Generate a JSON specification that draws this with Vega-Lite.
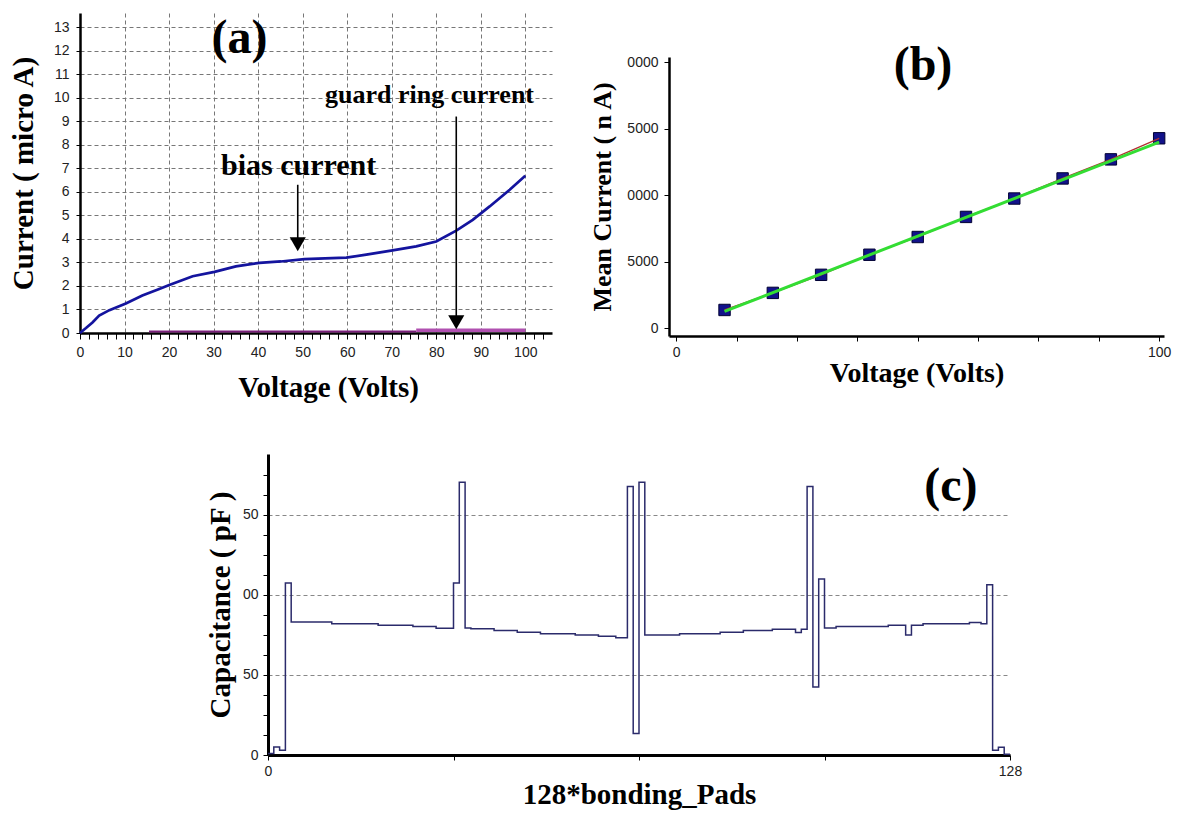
{
  "$schema": "https://vega.github.io/schema/vega-lite/v6.json",
  "background": "white",
  "padding": {"left": 9, "top": 13, "right": 5, "bottom": 2},
  "config": {
    "view": {"stroke": null},
    "axis": {
      "domainColor": "black",
      "tickColor": "black",
      "labelFont": "Liberation Sans",
      "labelColor": "#222222",
      "labelFontSize": 14,
      "labelOverlap": false,
      "labelFlush": false,
      "titleFont": "Liberation Serif",
      "titleFontWeight": "bold",
      "titleColor": "black",
      "titleFontSize": 29,
      "grid": false
    }
  },
  "datasets": {
    "bias": [
      {"x": 0, "y": 0}, {"x": 1.35, "y": 0.21}, {"x": 2.8, "y": 0.45}, {"x": 4.3, "y": 0.74},
      {"x": 6.6, "y": 0.97}, {"x": 10.3, "y": 1.25}, {"x": 14, "y": 1.59}, {"x": 17.8, "y": 1.87},
      {"x": 19.9, "y": 2.03}, {"x": 25.3, "y": 2.41}, {"x": 30.2, "y": 2.6}, {"x": 35, "y": 2.83},
      {"x": 40.3, "y": 2.98}, {"x": 45.1, "y": 3.04}, {"x": 50.4, "y": 3.14}, {"x": 55, "y": 3.17},
      {"x": 59.8, "y": 3.2}, {"x": 64.3, "y": 3.33}, {"x": 70.2, "y": 3.51}, {"x": 75.5, "y": 3.68},
      {"x": 80, "y": 3.89}, {"x": 84.5, "y": 4.35}, {"x": 88.2, "y": 4.81}, {"x": 92, "y": 5.38},
      {"x": 96.5, "y": 6.09}, {"x": 100, "y": 6.68}
    ],
    "guard1": [{"x": 15.5, "y": 0.06}, {"x": 75.5, "y": 0.06}],
    "guard2": [{"x": 75.5, "y": 0.12}, {"x": 100, "y": 0.12}],
    "arrowsA": [{"x": 48.9, "y": 6.3, "y2": 4.0}, {"x": 84.5, "y": 9.2, "y2": 0.7}],
    "headsA": [{"x": 48.9, "y": 3.77}, {"x": 84.5, "y": 0.46}],
    "meanCurrent": [
      {"x": 10, "y": 1360}, {"x": 20, "y": 2645}, {"x": 30, "y": 4005}, {"x": 40, "y": 5516},
      {"x": 50, "y": 6851}, {"x": 60, "y": 8363}, {"x": 70, "y": 9748}, {"x": 80, "y": 11259},
      {"x": 90, "y": 12695}, {"x": 100, "y": 14282}
    ],
    "fit": [{"x": 10, "y": 1250}, {"x": 100, "y": 14000}],
    "cap": [
      {"x": 0, "y": 1}, {"x": 1, "y": 5}, {"x": 2, "y": 3}, {"x": 3, "y": 107.5},
      {"x": 4, "y": 83}, {"x": 5, "y": 83}, {"x": 6, "y": 83}, {"x": 7, "y": 83}, {"x": 8, "y": 83}, {"x": 9, "y": 83}, {"x": 10, "y": 83},
      {"x": 11, "y": 82}, {"x": 12, "y": 82}, {"x": 13, "y": 82}, {"x": 14, "y": 82}, {"x": 15, "y": 82}, {"x": 16, "y": 82}, {"x": 17, "y": 82}, {"x": 18, "y": 82},
      {"x": 19, "y": 81}, {"x": 20, "y": 81}, {"x": 21, "y": 81}, {"x": 22, "y": 81}, {"x": 23, "y": 81}, {"x": 24, "y": 81},
      {"x": 25, "y": 80.2}, {"x": 26, "y": 80.2}, {"x": 27, "y": 80.2}, {"x": 28, "y": 80.2},
      {"x": 29, "y": 79.2}, {"x": 30, "y": 79.2}, {"x": 31, "y": 79.2},
      {"x": 32, "y": 107.5}, {"x": 33, "y": 170.4}, {"x": 34, "y": 79.4},
      {"x": 35, "y": 78.8}, {"x": 36, "y": 78.8}, {"x": 37, "y": 78.8}, {"x": 38, "y": 78.8},
      {"x": 39, "y": 77.7}, {"x": 40, "y": 77.7}, {"x": 41, "y": 77.7}, {"x": 42, "y": 77.7},
      {"x": 43, "y": 76.7}, {"x": 44, "y": 76.7}, {"x": 45, "y": 76.7}, {"x": 46, "y": 76.7},
      {"x": 47, "y": 75.8}, {"x": 48, "y": 75.8}, {"x": 49, "y": 75.8}, {"x": 50, "y": 75.8}, {"x": 51, "y": 75.8}, {"x": 52, "y": 75.8},
      {"x": 53, "y": 75}, {"x": 54, "y": 75}, {"x": 55, "y": 75}, {"x": 56, "y": 75},
      {"x": 57, "y": 74.2}, {"x": 58, "y": 74.2}, {"x": 59, "y": 74.2},
      {"x": 60, "y": 73.3}, {"x": 61, "y": 73.3},
      {"x": 62, "y": 167.7}, {"x": 63, "y": 13.5}, {"x": 64, "y": 170.4},
      {"x": 65, "y": 75}, {"x": 66, "y": 75}, {"x": 67, "y": 75}, {"x": 68, "y": 75}, {"x": 69, "y": 75}, {"x": 70, "y": 75},
      {"x": 71, "y": 75.8}, {"x": 72, "y": 75.8}, {"x": 73, "y": 75.8}, {"x": 74, "y": 75.8}, {"x": 75, "y": 75.8}, {"x": 76, "y": 75.8}, {"x": 77, "y": 75.8},
      {"x": 78, "y": 76.7}, {"x": 79, "y": 76.7}, {"x": 80, "y": 76.7}, {"x": 81, "y": 76.7},
      {"x": 82, "y": 77.7}, {"x": 83, "y": 77.7}, {"x": 84, "y": 77.7}, {"x": 85, "y": 77.7}, {"x": 86, "y": 77.7},
      {"x": 87, "y": 78.5}, {"x": 88, "y": 78.5}, {"x": 89, "y": 78.5}, {"x": 90, "y": 78.5},
      {"x": 91, "y": 76.5}, {"x": 92, "y": 78.5}, {"x": 93, "y": 167.7}, {"x": 94, "y": 42.5}, {"x": 95, "y": 110},
      {"x": 96, "y": 79.4}, {"x": 97, "y": 79.4},
      {"x": 98, "y": 80.2}, {"x": 99, "y": 80.2}, {"x": 100, "y": 80.2}, {"x": 101, "y": 80.2}, {"x": 102, "y": 80.2}, {"x": 103, "y": 80.2}, {"x": 104, "y": 80.2}, {"x": 105, "y": 80.2}, {"x": 106, "y": 80.2},
      {"x": 107, "y": 81}, {"x": 108, "y": 81}, {"x": 109, "y": 81},
      {"x": 110, "y": 75},
      {"x": 111, "y": 81}, {"x": 112, "y": 81},
      {"x": 113, "y": 81.9}, {"x": 114, "y": 81.9}, {"x": 115, "y": 81.9}, {"x": 116, "y": 81.9}, {"x": 117, "y": 81.9}, {"x": 118, "y": 81.9}, {"x": 119, "y": 81.9}, {"x": 120, "y": 81.9},
      {"x": 121, "y": 82.7}, {"x": 122, "y": 82.7}, {"x": 123, "y": 81.9},
      {"x": 124, "y": 106.3}, {"x": 125, "y": 3}, {"x": 126, "y": 4.8}, {"x": 127, "y": 0.5}, {"x": 128, "y": 0.5}
    ]
  },
  "spacing": 52,
  "vconcat": [
    {
      "spacing": 37,
      "hconcat": [
        {
          "width": 472,
          "height": 320,
          "encoding": {
            "x": {
              "field": "x", "type": "quantitative",
              "scale": {"domain": [0, 106], "nice": false, "zero": false},
              "axis": {
                "title": "Voltage (Volts)",
                "values": [0, 2, 4, 6, 8, 10, 12, 14, 16, 18, 20, 22, 24, 26, 28, 30, 32, 34, 36, 38, 40, 42, 44, 46, 48, 50, 52, 54, 56, 58, 60, 62, 64, 66, 68, 70, 72, 74, 76, 78, 80, 82, 84, 86, 88, 90, 92, 94, 96, 98, 100, 102, 104],
                "labelExpr": "datum.value % 10 === 0 ? datum.label : ''",
                "grid": true,
                "gridColor": "#777777",
                "gridDash": [4, 3],
                "gridOpacity": {"condition": {"test": "datum.value % 10 === 0 && datum.value > 0", "value": 1}, "value": 0},
                "domainWidth": 2.5,
                "tickSize": 6,
                "labelPadding": 6,
                "titlePadding": 14,
                "titleX": 248
              }
            },
            "y": {
              "field": "y", "type": "quantitative",
              "scale": {"domain": [0, 13.6], "nice": false, "zero": false},
              "axis": {
                "title": "Current ( micro A)",
                "values": [0, 1, 2, 3, 4, 5, 6, 7, 8, 9, 10, 11, 12, 13],
                "grid": true,
                "gridColor": "#777777",
                "gridDash": [4, 3],
                "gridOpacity": {"condition": {"test": "datum.value > 0", "value": 1}, "value": 0},
                "domainWidth": 2.5,
                "tickSize": 4,
                "labelPadding": 7,
                "titlePadding": 15
              }
            }
          },
          "layer": [
            {"data": {"name": "guard1"}, "mark": {"type": "line", "color": "#7a1f7a", "strokeWidth": 2}},
            {"data": {"name": "guard2"}, "mark": {"type": "line", "color": "#b050b0", "strokeWidth": 3.5}},
            {"data": {"name": "bias"}, "mark": {"type": "line", "color": "#14149e", "strokeWidth": 2.7}},
            {"data": {"name": "arrowsA"}, "mark": {"type": "rule", "color": "black", "strokeWidth": 1.6}, "encoding": {"y2": {"field": "y2"}}},
            {"data": {"name": "headsA"}, "mark": {"type": "point", "shape": "triangle-down", "filled": true, "color": "black", "size": 260, "opacity": 1}},
            {"data": {"values": [{"x": 35.8, "y": 11.9, "label": "(a)"}]}, "mark": {"type": "text", "font": "Liberation Serif", "fontWeight": "bold", "fontSize": 48, "color": "black", "align": "center", "baseline": "alphabetic"}, "encoding": {"text": {"field": "label"}}},
            {"data": {"values": [{"x": 49.1, "y": 6.72, "label": "bias current"}]}, "mark": {"type": "text", "font": "Liberation Serif", "fontWeight": "bold", "fontSize": 30, "color": "black", "align": "center", "baseline": "alphabetic"}, "encoding": {"text": {"field": "label"}}},
            {"data": {"values": [{"x": 78.5, "y": 9.78, "label": "guard ring current"}]}, "mark": {"type": "text", "font": "Liberation Serif", "fontWeight": "bold", "fontSize": 26, "color": "black", "align": "center", "baseline": "alphabetic"}, "encoding": {"text": {"field": "label"}}}
          ]
        },
        {
          "spacing": 0,
          "vconcat": [
            {"width": 10, "height": 29, "data": {"values": [{}]}, "mark": {"type": "point", "opacity": 0}},
            {
              "width": 495,
              "height": 279,
              "encoding": {
                "x": {
                  "field": "x", "type": "quantitative",
                  "scale": {"domain": [-1.5, 101], "nice": false, "zero": false},
                  "axis": {
                    "title": "Voltage (Volts)",
                    "titleFontSize": 28,
                    "values": [0, 12.5, 25, 37.5, 50, 62.5, 75, 87.5, 100],
                    "labelExpr": "datum.value === 0 || datum.value === 100 ? datum.label : ''",
                    "domainWidth": 2.5,
                    "tickSize": 5,
                    "labelPadding": 4,
                    "titlePadding": 0
                  }
                },
                "y": {
                  "field": "y", "type": "quantitative",
                  "scale": {"domain": [-600, 20400], "nice": false, "zero": false},
                  "axis": {
                    "title": "Mean Current ( n A)",
                    "titleFontSize": 26,
                    "values": [0, 5000, 10000, 15000, 20000],
                    "labelExpr": "slice(format(datum.value, 'd'), -4)",
                    "domainWidth": 2.5,
                    "tickSize": 5,
                    "labelPadding": 6,
                    "titlePadding": 11
                  }
                }
              },
              "layer": [
                {"data": {"name": "meanCurrent"}, "mark": {"type": "point", "shape": "square", "filled": true, "color": "#12128a", "stroke": "#000033", "strokeWidth": 1, "size": 130, "opacity": 1}},
                {"data": {"name": "meanCurrent"}, "mark": {"type": "line", "color": "#b03030", "strokeWidth": 1.3}},
                {"data": {"name": "fit"}, "mark": {"type": "line", "color": "#33dd33", "strokeWidth": 3}},
                {"data": {"values": [{"x": 51.1, "y": 18660, "label": "(b)"}]}, "mark": {"type": "text", "font": "Liberation Serif", "fontWeight": "bold", "fontSize": 48, "color": "black", "align": "center", "baseline": "alphabetic"}, "encoding": {"text": {"field": "label"}}}
              ]
            }
          ]
        }
      ]
    },
    {
      "spacing": 0,
      "hconcat": [
        {"width": 126, "height": 10, "data": {"values": [{}]}, "mark": {"type": "point", "opacity": 0}},
        {
          "width": 742,
          "height": 301,
          "encoding": {
            "x": {
              "field": "x", "type": "quantitative",
              "scale": {"domain": [0, 128], "nice": false, "zero": false},
              "axis": {
                "title": "128*bonding_Pads",
                "values": [0, 32, 64, 96, 128],
                "labelExpr": "datum.value === 0 || datum.value === 128 ? datum.label : ''",
                "domainWidth": 3,
                "tickSize": 5,
                "labelPadding": 4,
                "titlePadding": 2
              }
            },
            "y": {
              "field": "y", "type": "quantitative",
              "scale": {"domain": [0, 188], "nice": false, "zero": false},
              "axis": {
                "title": "Capacitance ( pF )",
                "values": [0, 12.5, 25, 37.5, 50, 62.5, 75, 87.5, 100, 112.5, 125, 137.5, 150, 162.5, 175],
                "labelExpr": "datum.value % 50 === 0 ? slice(format(datum.value, 'd'), -2) : ''",
                "grid": true,
                "gridColor": "#888888",
                "gridDash": [4, 3],
                "gridOpacity": {"condition": {"test": "datum.value % 50 === 0 && datum.value > 0", "value": 1}, "value": 0},
                "domainWidth": 3,
                "tickSize": 5,
                "labelPadding": 5,
                "titlePadding": 7
              }
            }
          },
          "layer": [
            {"data": {"name": "cap"}, "mark": {"type": "line", "interpolate": "step-after", "color": "#2b2b6b", "strokeWidth": 1.5}},
            {"data": {"values": [{"x": 117.8, "y": 158.6, "label": "(c)"}]}, "mark": {"type": "text", "font": "Liberation Serif", "fontWeight": "bold", "fontSize": 48, "color": "black", "align": "center", "baseline": "alphabetic"}, "encoding": {"text": {"field": "label"}}}
          ]
        }
      ]
    }
  ]
}
